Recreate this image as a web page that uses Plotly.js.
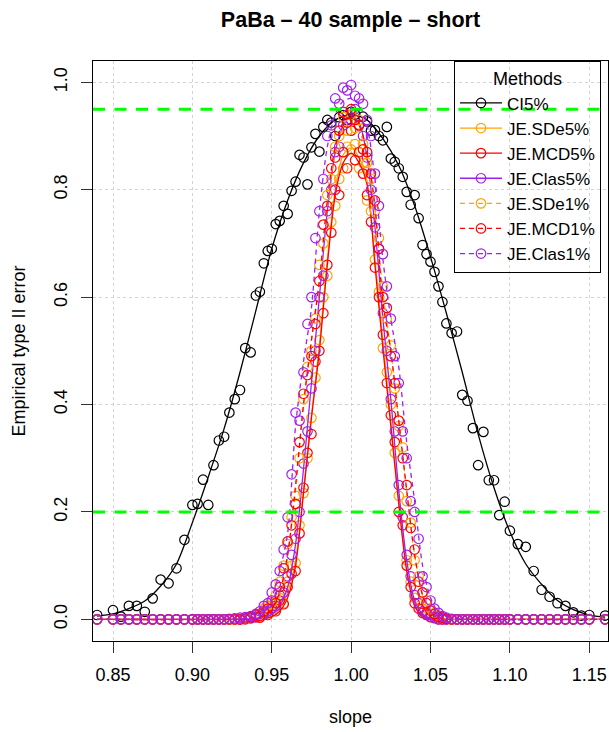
<!DOCTYPE html>
<html>
<head>
<meta charset="utf-8">
<script src="https://cdn.plot.ly/plotly-3.0.1.min.js"></script>
<style>
html,body{margin:0;padding:0;background:#fff;}
#chart{width:609px;height:732px;}
</style>
</head>
<body>
<div id="chart"></div>
<script>
// ---- data ----
const slope = [
  0.84, 0.85, 0.855, 0.86, 0.865, 0.87, 0.875, 0.88, 0.885, 0.89, 0.895, 0.9,
  0.9033, 0.9067, 0.91, 0.9133, 0.9167, 0.92, 0.9233, 0.9267, 0.93, 0.9333, 0.9367, 0.94,
  0.9425, 0.945, 0.9475, 0.95, 0.9525, 0.955, 0.9575, 0.96, 0.9625, 0.965, 0.9675, 0.97,
  0.9725, 0.975, 0.9775, 0.98, 0.9825, 0.985, 0.9875, 0.99, 0.9925, 0.995, 0.9975, 1.0,
  1.0025, 1.005, 1.0075, 1.01, 1.0125, 1.015, 1.0175, 1.02, 1.0225, 1.025, 1.0275, 1.03,
  1.0325, 1.035, 1.0375, 1.04, 1.0425, 1.045, 1.0475, 1.05, 1.0525, 1.055, 1.0575,
  1.06, 1.0633, 1.0667, 1.07, 1.0733, 1.0767, 1.08, 1.0833, 1.0867, 1.09, 1.0933, 1.0967,
  1.1, 1.105, 1.11, 1.115, 1.12, 1.125, 1.13, 1.135, 1.14, 1.145, 1.15, 1.16
];

const ci5 = [
  0.008, 0.017, 0.005, 0.025, 0.025, 0.014, 0.039, 0.074, 0.067, 0.095, 0.148, 0.213,
  0.215, 0.26, 0.213, 0.287, 0.333, 0.34, 0.385, 0.41, 0.427, 0.505, 0.497, 0.603,
  0.61, 0.663, 0.686, 0.69, 0.736, 0.742, 0.77, 0.755, 0.798, 0.815, 0.865, 0.86,
  0.81, 0.879, 0.904, 0.871, 0.917, 0.93, 0.925, 0.90, 0.935, 0.939, 0.93, 0.945,
  0.94, 0.92, 0.936, 0.927, 0.91, 0.911, 0.90, 0.892, 0.917, 0.858, 0.852, 0.84,
  0.824, 0.796, 0.772, 0.79, 0.747, 0.697, 0.68, 0.666, 0.647, 0.62, 0.591,
  0.551, 0.533, 0.536, 0.418, 0.407, 0.356, 0.287, 0.349, 0.259, 0.259, 0.194, 0.219,
  0.165, 0.14, 0.135, 0.09, 0.055, 0.042, 0.03, 0.025, 0.013, 0.007, 0.008, 0.007
];

const jeSDe5 = [
  0, 0, 0, 0, 0, 0, 0, 0, 0, 0, 0, 0,
  0, 0, 0, 0, 0, 0, 0, 0, 0, 0.001, 0.003, 0.006,
  0.01, 0.018, 0.012, 0.025, 0.02, 0.04, 0.03, 0.07, 0.1, 0.105, 0.175, 0.235,
  0.3, 0.375, 0.45, 0.52, 0.6, 0.64, 0.74, 0.77, 0.82, 0.84, 0.88, 0.875,
  0.885, 0.84, 0.85, 0.78, 0.76, 0.67, 0.61, 0.505, 0.46, 0.4, 0.31, 0.23,
  0.19, 0.11, 0.07, 0.04, 0.03, 0.02, 0.012, 0.008, 0.004, 0.002, 0,
  0, 0, 0, 0, 0, 0, 0, 0, 0, 0, 0, 0,
  0, 0, 0, 0, 0, 0, 0, 0, 0, 0, 0, 0
];

const jeMCD5 = [
  0, 0, 0, 0, 0, 0, 0, 0, 0, 0, 0, 0,
  0, 0, 0, 0, 0, 0, 0, 0, 0, 0, 0.002, 0.004,
  0.003, 0.012, 0.008, 0.02, 0.015, 0.035, 0.028, 0.06, 0.085, 0.09, 0.16, 0.245,
  0.31, 0.345, 0.48, 0.5, 0.57, 0.66, 0.72, 0.8, 0.79, 0.87, 0.84, 0.91,
  0.855, 0.87, 0.83, 0.79, 0.74, 0.655, 0.6, 0.53, 0.44, 0.38, 0.33, 0.2,
  0.175, 0.1, 0.06, 0.03, 0.02, 0.012, 0.008, 0.004, 0.002, 0, 0,
  0, 0, 0, 0, 0, 0, 0, 0, 0, 0, 0, 0,
  0, 0, 0, 0, 0, 0, 0, 0, 0, 0, 0, 0
];

const jeClas5 = [
  0, 0, 0, 0, 0, 0, 0, 0, 0, 0, 0, 0,
  0, 0, 0, 0, 0, 0, 0, 0, 0, 0.001, 0.002, 0.004,
  0.008, 0.01, 0.015, 0.02, 0.025, 0.045, 0.05, 0.08, 0.12, 0.15, 0.2, 0.29,
  0.35, 0.43, 0.5, 0.6, 0.64, 0.76, 0.8, 0.87, 0.88, 0.92, 0.94, 0.93,
  0.95, 0.92, 0.9, 0.86, 0.8, 0.73, 0.69, 0.57, 0.5, 0.41, 0.35, 0.25,
  0.19, 0.12, 0.08, 0.045, 0.03, 0.015, 0.01, 0.005, 0.003, 0, 0,
  0, 0, 0, 0, 0, 0, 0, 0, 0, 0, 0, 0,
  0, 0, 0, 0, 0, 0, 0, 0, 0, 0, 0, 0
];

const jeSDe1 = [
  0, 0, 0, 0, 0, 0, 0, 0, 0, 0, 0, 0,
  0, 0, 0, 0, 0, 0, 0, 0, 0.001, 0.002, 0.005, 0.01,
  0.008, 0.02, 0.025, 0.03, 0.045, 0.07, 0.1, 0.14, 0.19, 0.23, 0.3, 0.41,
  0.47, 0.5, 0.56, 0.66, 0.7, 0.79, 0.82, 0.88, 0.9, 0.935, 0.91, 0.94,
  0.915, 0.93, 0.885, 0.85, 0.82, 0.76, 0.71, 0.62, 0.56, 0.51, 0.43, 0.36,
  0.32, 0.22, 0.18, 0.11, 0.08, 0.05, 0.035, 0.02, 0.012, 0.007, 0.004,
  0.002, 0, 0, 0, 0, 0, 0, 0, 0, 0, 0, 0,
  0, 0, 0, 0, 0, 0, 0, 0, 0, 0, 0, 0
];

const jeMCD1 = [
  0, 0, 0, 0, 0, 0, 0, 0, 0, 0, 0, 0,
  0, 0, 0, 0, 0, 0, 0, 0, 0, 0.002, 0.004, 0.008,
  0.006, 0.015, 0.02, 0.035, 0.03, 0.06, 0.095, 0.145, 0.175, 0.215, 0.33, 0.42,
  0.455, 0.49, 0.55, 0.63, 0.735, 0.77, 0.84, 0.86, 0.91, 0.945, 0.925, 0.95,
  0.93, 0.92, 0.875, 0.87, 0.83, 0.78, 0.69, 0.6, 0.58, 0.49, 0.44, 0.37,
  0.3, 0.25, 0.17, 0.13, 0.07, 0.05, 0.03, 0.016, 0.01, 0.005, 0.003,
  0.001, 0, 0, 0, 0, 0, 0, 0, 0, 0, 0, 0,
  0, 0, 0, 0, 0, 0, 0, 0, 0, 0, 0, 0
];

const jeClas1 = [
  0, 0, 0, 0, 0, 0, 0, 0, 0, 0, 0, 0,
  0, 0, 0, 0, 0, 0, 0.001, 0.002, 0.003, 0.004, 0.006, 0.01,
  0.015, 0.025, 0.03, 0.05, 0.065, 0.09, 0.13, 0.19, 0.27, 0.385, 0.37, 0.46,
  0.55, 0.6, 0.71, 0.76, 0.82, 0.9, 0.92, 0.97, 0.96, 0.99, 0.985, 0.995,
  0.975, 0.97, 0.96, 0.93, 0.9, 0.83, 0.77, 0.68, 0.62, 0.56, 0.49, 0.44,
  0.35, 0.3, 0.22, 0.2, 0.15, 0.08, 0.06, 0.035, 0.02, 0.012, 0.006,
  0.003, 0.001, 0, 0, 0, 0, 0, 0, 0, 0, 0, 0,
  0, 0, 0, 0, 0, 0, 0, 0, 0, 0, 0, 0
];

// smoothed curves
const ciCurveSlope = [
  0.84, 0.85, 0.86, 0.87, 0.88, 0.89, 0.90, 0.91, 0.92, 0.93, 0.94, 0.95, 0.96, 0.97, 0.98, 0.99,
  1.00, 1.01, 1.02, 1.03, 1.04, 1.05, 1.06, 1.07, 1.08, 1.09, 1.10, 1.11, 1.12, 1.13, 1.14, 1.15, 1.16
];
const ci5Curve = [
  0.006, 0.01, 0.02, 0.034, 0.062, 0.103, 0.18, 0.265, 0.355, 0.46, 0.575, 0.69, 0.78, 0.85, 0.9, 0.93,
  0.94, 0.93, 0.895, 0.845, 0.77, 0.675, 0.57, 0.46, 0.345, 0.245, 0.163, 0.103, 0.065, 0.035, 0.018, 0.008, 0.004
];

const jeCurveSlope = [
  0.84, 0.93, 0.94, 0.945, 0.95, 0.955, 0.96, 0.965, 0.97, 0.975, 0.98, 0.985, 0.99, 0.995, 1.0,
  1.005, 1.01, 1.015, 1.02, 1.025, 1.03, 1.035, 1.04, 1.045, 1.05, 1.055, 1.06, 1.07, 1.16
];
const jeSDe5Curve = [0, 0, 0, 0.002, 0.008, 0.02, 0.05, 0.11, 0.24, 0.38, 0.51, 0.67, 0.8, 0.865, 0.878,
  0.86, 0.815, 0.67, 0.52, 0.37, 0.22, 0.095, 0.03, 0.008, 0.002, 0, 0, 0, 0];
const jeMCD5Curve = [0, 0, 0, 0.001, 0.005, 0.015, 0.04, 0.1, 0.235, 0.375, 0.5, 0.66, 0.79, 0.85, 0.868,
  0.85, 0.81, 0.66, 0.505, 0.36, 0.215, 0.09, 0.025, 0.006, 0.001, 0, 0, 0, 0];
const jeClas5Curve = [0, 0, 0.001, 0.003, 0.01, 0.025, 0.06, 0.14, 0.28, 0.44, 0.6, 0.76, 0.87, 0.92, 0.935,
  0.925, 0.86, 0.73, 0.56, 0.41, 0.24, 0.11, 0.035, 0.01, 0.002, 0, 0, 0, 0];
const jeSDe1Curve = [0, 0, 0.002, 0.006, 0.02, 0.05, 0.12, 0.24, 0.4, 0.52, 0.63, 0.77, 0.87, 0.915, 0.925,
  0.91, 0.86, 0.76, 0.61, 0.5, 0.37, 0.24, 0.12, 0.045, 0.012, 0.003, 0, 0, 0];
const jeMCD1Curve = [0, 0, 0.002, 0.006, 0.02, 0.05, 0.12, 0.25, 0.4, 0.52, 0.63, 0.78, 0.88, 0.925, 0.935,
  0.92, 0.87, 0.77, 0.59, 0.5, 0.37, 0.24, 0.12, 0.045, 0.012, 0.003, 0, 0, 0];
const jeClas1Curve = [0, 0.001, 0.005, 0.015, 0.04, 0.09, 0.16, 0.36, 0.48, 0.58, 0.76, 0.88, 0.94, 0.965, 0.97,
  0.96, 0.92, 0.82, 0.67, 0.56, 0.47, 0.33, 0.22, 0.1, 0.04, 0.012, 0.004, 0, 0];

const methodNames = ['CI5%', 'JE.SDe5%', 'JE.MCD5%', 'JE.Clas5%', 'JE.SDe1%', 'JE.MCD1%', 'JE.Clas1%'];
const refLevels = [0.95, 0.2];
const xTicks = [0.85, 0.90, 0.95, 1.00, 1.05, 1.10, 1.15];
const xTickText = ['0.85', '0.90', '0.95', '1.00', '1.05', '1.10', '1.15'];
const yTicks = [0, 0.2, 0.4, 0.6, 0.8, 1.0];
const yTickText = ['0.0', '0.2', '0.4', '0.6', '0.8', '1.0'];

// ---- styles ----
const FONT = 'Liberation Sans, Arial, Helvetica, sans-serif';
const series = [
  {name: methodNames[0], x: slope, y: ci5, cx: ciCurveSlope, cy: ci5Curve, color: '#000000', dash: 'solid'},
  {name: methodNames[1], x: slope, y: jeSDe5, cx: jeCurveSlope, cy: jeSDe5Curve, color: '#FFA500', dash: 'solid'},
  {name: methodNames[2], x: slope, y: jeMCD5, cx: jeCurveSlope, cy: jeMCD5Curve, color: '#FF0000', dash: 'solid'},
  {name: methodNames[3], x: slope, y: jeClas5, cx: jeCurveSlope, cy: jeClas5Curve, color: '#A020F0', dash: 'solid'},
  {name: methodNames[4], x: slope, y: jeSDe1, cx: jeCurveSlope, cy: jeSDe1Curve, color: '#FFA500', dash: '5px,4px'},
  {name: methodNames[5], x: slope, y: jeMCD1, cx: jeCurveSlope, cy: jeMCD1Curve, color: '#FF0000', dash: '5px,4px'},
  {name: methodNames[6], x: slope, y: jeClas1, cx: jeCurveSlope, cy: jeClas1Curve, color: '#A020F0', dash: '5px,4px'}
];

const traces = [];
series.forEach(s => {
  traces.push({
    type: 'scatter', mode: 'markers', x: s.x, y: s.y, showlegend: false, hoverinfo: 'skip',
    marker: {symbol: 'circle-open', size: 9.5, color: s.color, line: {width: 1.2, color: s.color}}
  });
  traces.push({
    type: 'scatter', mode: 'lines', x: s.cx, y: s.cy, showlegend: false, hoverinfo: 'skip',
    line: {color: s.color, width: 1.3, dash: s.dash, shape: 'spline', smoothing: 0.8}
  });
});
// legend entries
series.forEach(s => {
  traces.push({
    type: 'scatter', mode: 'lines+markers', x: [null], y: [null], name: s.name, showlegend: true,
    line: {color: s.color, width: 1.3, dash: s.dash},
    marker: {symbol: 'circle-open', size: 9.5, color: s.color, line: {width: 1.2, color: s.color}}
  });
});

const shapes = refLevels.map(v => ({
  type: 'line', xref: 'paper', x0: 0, x1: 1, yref: 'y', y0: v, y1: v,
  line: {color: '#00FF00', width: 3, dash: '12px,9.5px'}, layer: 'above'
}));

const axisCommon = {
  showline: true, mirror: true, linecolor: '#000', linewidth: 1,
  ticks: 'outside', ticklen: 11, tickwidth: 1, tickcolor: '#333',
  showgrid: true, gridcolor: '#d3d3d3', griddash: 'dot', gridwidth: 1,
  zeroline: false, tickfont: {family: FONT, size: 18, color: '#000'}
};

const layout = {
  width: 609, height: 732,
  margin: {l: 93, r: 1, t: 61, b: 91, autoexpand: false},
  paper_bgcolor: '#fff', plot_bgcolor: '#fff',
  font: {family: FONT, color: '#000'},
  title: {
    text: 'PaBa – 40 sample – short',
    font: {family: FONT, size: 21.5, weight: 'bold', color: '#000'},
    x: 0.5, xref: 'paper', y: 1 - 19 / 732, yref: 'container', yanchor: 'middle'
  },
  xaxis: Object.assign({}, axisCommon, {
    range: [0.8374, 1.1618], tickmode: 'array', tickvals: xTicks, ticktext: xTickText,
    ticklabelstandoff: 6,
    title: {text: 'slope', font: {family: FONT, size: 18, color: '#000'}, standoff: 26}
  }),
  yaxis: Object.assign({}, axisCommon, {
    range: [-0.0404, 1.0397], tickmode: 'array', tickvals: yTicks, ticktext: yTickText,
    tickangle: -90, ticklabelstandoff: 7,
    title: {text: 'Empirical type II error', font: {family: FONT, size: 18, color: '#000'}, standoff: 20}
  }),
  shapes: shapes,
  showlegend: true,
  legend: {
    x: (454 - 93) / 515, y: 1, xanchor: 'left', yanchor: 'top',
    bgcolor: 'rgba(0,0,0,0)', bordercolor: '#000', borderwidth: 1,
    font: {family: FONT, size: 17, color: '#000'},
    title: {text: 'Methods', side: 'top center', font: {family: FONT, size: 18, color: '#000'}},
    traceorder: 'normal', itemwidth: 42, itemclick: false, itemdoubleclick: false
  },
  hovermode: false
};

Plotly.newPlot('chart', traces, layout, {staticPlot: true, displayModeBar: false});
</script>
</body>
</html>
